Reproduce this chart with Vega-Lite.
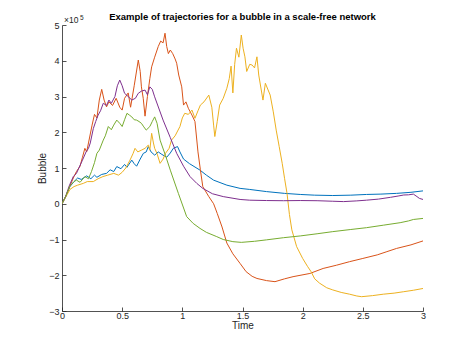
{
  "$schema": "https://vega.github.io/schema/vega-lite/v6.json",
  "width": 361,
  "height": 286,
  "autosize": {"type": "none"},
  "padding": {"left": 62, "top": 25, "right": 44, "bottom": 39},
  "background": "white",
  "config": {
    "font": "Liberation Sans",
    "view": {"stroke": null},
    "axis": {
      "grid": false,
      "domainColor": "#262626",
      "domainWidth": 0.8,
      "tickColor": "#262626",
      "tickWidth": 0.8,
      "tickSize": -4,
      "labelColor": "#262626",
      "labelFontSize": 9,
      "labelOverlap": false,
      "labelFlush": false,
      "titleColor": "#262626",
      "titleFontSize": 10,
      "titleFontWeight": "normal"
    }
  },
  "title": {
    "text": "Example of trajectories for a bubble in a scale-free network",
    "fontSize": 9.5,
    "fontWeight": "bold",
    "color": "#000000",
    "anchor": "middle",
    "frame": "group",
    "offset": -7
  },
  "layer": [
    {
      "data": {
        "values": [
          {"series": "1", "time": 0, "bubble": 0},
          {"series": "1", "time": 0.03, "bubble": 0.2},
          {"series": "1", "time": 0.066, "bubble": 0.48},
          {"series": "1", "time": 0.1, "bubble": 0.62},
          {"series": "1", "time": 0.13, "bubble": 0.72},
          {"series": "1", "time": 0.16, "bubble": 0.68},
          {"series": "1", "time": 0.205, "bubble": 0.78},
          {"series": "1", "time": 0.24, "bubble": 0.7},
          {"series": "1", "time": 0.27, "bubble": 0.8},
          {"series": "1", "time": 0.29, "bubble": 0.74},
          {"series": "1", "time": 0.33, "bubble": 0.82},
          {"series": "1", "time": 0.37, "bubble": 0.85},
          {"series": "1", "time": 0.4, "bubble": 0.95},
          {"series": "1", "time": 0.43, "bubble": 0.9},
          {"series": "1", "time": 0.455, "bubble": 1.04},
          {"series": "1", "time": 0.49, "bubble": 0.98},
          {"series": "1", "time": 0.52, "bubble": 1.1},
          {"series": "1", "time": 0.54, "bubble": 1.02},
          {"series": "1", "time": 0.58, "bubble": 1.22},
          {"series": "1", "time": 0.6, "bubble": 1.12},
          {"series": "1", "time": 0.62, "bubble": 1.05},
          {"series": "1", "time": 0.65, "bubble": 1.25},
          {"series": "1", "time": 0.676, "bubble": 1.41},
          {"series": "1", "time": 0.7, "bubble": 1.45},
          {"series": "1", "time": 0.717, "bubble": 1.6},
          {"series": "1", "time": 0.74, "bubble": 1.45},
          {"series": "1", "time": 0.77, "bubble": 1.36},
          {"series": "1", "time": 0.8, "bubble": 1.45},
          {"series": "1", "time": 0.83, "bubble": 1.38},
          {"series": "1", "time": 0.87, "bubble": 1.3},
          {"series": "1", "time": 0.9, "bubble": 1.42},
          {"series": "1", "time": 0.925, "bubble": 1.55},
          {"series": "1", "time": 0.96, "bubble": 1.6},
          {"series": "1", "time": 0.98, "bubble": 1.45},
          {"series": "1", "time": 1.01, "bubble": 1.25},
          {"series": "1", "time": 1.06, "bubble": 1.12},
          {"series": "1", "time": 1.147, "bubble": 0.94},
          {"series": "1", "time": 1.2, "bubble": 0.8},
          {"series": "1", "time": 1.26, "bubble": 0.66},
          {"series": "1", "time": 1.37, "bubble": 0.52},
          {"series": "1", "time": 1.48, "bubble": 0.43},
          {"series": "1", "time": 1.56, "bubble": 0.4},
          {"series": "1", "time": 1.7, "bubble": 0.34},
          {"series": "1", "time": 1.85, "bubble": 0.29},
          {"series": "1", "time": 1.98, "bubble": 0.26},
          {"series": "1", "time": 2.1, "bubble": 0.24},
          {"series": "1", "time": 2.25, "bubble": 0.23},
          {"series": "1", "time": 2.4, "bubble": 0.24},
          {"series": "1", "time": 2.53, "bubble": 0.26},
          {"series": "1", "time": 2.65, "bubble": 0.27},
          {"series": "1", "time": 2.78, "bubble": 0.29},
          {"series": "1", "time": 2.9, "bubble": 0.32},
          {"series": "1", "time": 3.0, "bubble": 0.36},

          {"series": "2", "time": 0, "bubble": 0},
          {"series": "2", "time": 0.03, "bubble": 0.2},
          {"series": "2", "time": 0.06, "bubble": 0.45},
          {"series": "2", "time": 0.094, "bubble": 0.72},
          {"series": "2", "time": 0.12, "bubble": 0.9},
          {"series": "2", "time": 0.15, "bubble": 1.05},
          {"series": "2", "time": 0.17, "bubble": 1.3},
          {"series": "2", "time": 0.19, "bubble": 1.55},
          {"series": "2", "time": 0.205, "bubble": 1.45},
          {"series": "2", "time": 0.22, "bubble": 1.7},
          {"series": "2", "time": 0.25, "bubble": 2.2},
          {"series": "2", "time": 0.27, "bubble": 2.5},
          {"series": "2", "time": 0.29, "bubble": 2.4},
          {"series": "2", "time": 0.31, "bubble": 2.9},
          {"series": "2", "time": 0.33, "bubble": 3.2},
          {"series": "2", "time": 0.35, "bubble": 2.9},
          {"series": "2", "time": 0.37, "bubble": 2.71},
          {"series": "2", "time": 0.39, "bubble": 2.85},
          {"series": "2", "time": 0.42, "bubble": 2.75},
          {"series": "2", "time": 0.45, "bubble": 2.95},
          {"series": "2", "time": 0.48, "bubble": 2.7},
          {"series": "2", "time": 0.5, "bubble": 2.62},
          {"series": "2", "time": 0.52, "bubble": 2.95},
          {"series": "2", "time": 0.55, "bubble": 3.1},
          {"series": "2", "time": 0.57, "bubble": 2.7},
          {"series": "2", "time": 0.6, "bubble": 3.3},
          {"series": "2", "time": 0.634, "bubble": 4.02},
          {"series": "2", "time": 0.65, "bubble": 3.7},
          {"series": "2", "time": 0.66, "bubble": 3.27},
          {"series": "2", "time": 0.675, "bubble": 2.95},
          {"series": "2", "time": 0.69, "bubble": 2.45},
          {"series": "2", "time": 0.71, "bubble": 3.0},
          {"series": "2", "time": 0.73, "bubble": 3.5},
          {"series": "2", "time": 0.745, "bubble": 3.83},
          {"series": "2", "time": 0.77, "bubble": 4.1},
          {"series": "2", "time": 0.8, "bubble": 4.4},
          {"series": "2", "time": 0.82, "bubble": 4.55},
          {"series": "2", "time": 0.84, "bubble": 4.5},
          {"series": "2", "time": 0.856, "bubble": 4.77},
          {"series": "2", "time": 0.87, "bubble": 4.4},
          {"series": "2", "time": 0.884, "bubble": 4.2},
          {"series": "2", "time": 0.9, "bubble": 4.3},
          {"series": "2", "time": 0.92, "bubble": 4.2},
          {"series": "2", "time": 0.94, "bubble": 4.05},
          {"series": "2", "time": 0.953, "bubble": 3.93},
          {"series": "2", "time": 0.97, "bubble": 3.6},
          {"series": "2", "time": 0.995, "bubble": 3.27},
          {"series": "2", "time": 1.01, "bubble": 2.76},
          {"series": "2", "time": 1.03, "bubble": 2.85},
          {"series": "2", "time": 1.05, "bubble": 2.67},
          {"series": "2", "time": 1.08, "bubble": 2.48},
          {"series": "2", "time": 1.105, "bubble": 2.3},
          {"series": "2", "time": 1.13, "bubble": 1.45},
          {"series": "2", "time": 1.15, "bubble": 0.95},
          {"series": "2", "time": 1.17, "bubble": 0.48},
          {"series": "2", "time": 1.22, "bubble": 0.2},
          {"series": "2", "time": 1.26, "bubble": 0.0},
          {"series": "2", "time": 1.29, "bubble": -0.27},
          {"series": "2", "time": 1.33, "bubble": -0.65},
          {"series": "2", "time": 1.37, "bubble": -1.1},
          {"series": "2", "time": 1.42, "bubble": -1.4},
          {"series": "2", "time": 1.48, "bubble": -1.67},
          {"series": "2", "time": 1.53, "bubble": -1.9},
          {"series": "2", "time": 1.58, "bubble": -2.03},
          {"series": "2", "time": 1.62, "bubble": -2.09},
          {"series": "2", "time": 1.7, "bubble": -2.15},
          {"series": "2", "time": 1.77, "bubble": -2.18},
          {"series": "2", "time": 1.85, "bubble": -2.1},
          {"series": "2", "time": 1.92, "bubble": -2.04},
          {"series": "2", "time": 2.06, "bubble": -1.95},
          {"series": "2", "time": 2.17, "bubble": -1.81},
          {"series": "2", "time": 2.28, "bubble": -1.72},
          {"series": "2", "time": 2.39, "bubble": -1.62},
          {"series": "2", "time": 2.5, "bubble": -1.53},
          {"series": "2", "time": 2.62, "bubble": -1.43},
          {"series": "2", "time": 2.7, "bubble": -1.34},
          {"series": "2", "time": 2.78, "bubble": -1.25},
          {"series": "2", "time": 2.9, "bubble": -1.15},
          {"series": "2", "time": 3.0, "bubble": -1.04},

          {"series": "3", "time": 0, "bubble": 0},
          {"series": "3", "time": 0.03, "bubble": 0.18},
          {"series": "3", "time": 0.066, "bubble": 0.4},
          {"series": "3", "time": 0.1, "bubble": 0.48},
          {"series": "3", "time": 0.13, "bubble": 0.52},
          {"series": "3", "time": 0.177, "bubble": 0.57},
          {"series": "3", "time": 0.21, "bubble": 0.62},
          {"series": "3", "time": 0.26, "bubble": 0.62},
          {"series": "3", "time": 0.3, "bubble": 0.7},
          {"series": "3", "time": 0.34, "bubble": 0.76},
          {"series": "3", "time": 0.38, "bubble": 0.8},
          {"series": "3", "time": 0.43, "bubble": 0.85},
          {"series": "3", "time": 0.47, "bubble": 0.8},
          {"series": "3", "time": 0.5, "bubble": 0.88},
          {"series": "3", "time": 0.53, "bubble": 1.0},
          {"series": "3", "time": 0.565, "bubble": 1.22},
          {"series": "3", "time": 0.59, "bubble": 1.4},
          {"series": "3", "time": 0.607, "bubble": 1.55},
          {"series": "3", "time": 0.63, "bubble": 1.45},
          {"series": "3", "time": 0.66, "bubble": 1.5},
          {"series": "3", "time": 0.69, "bubble": 1.55},
          {"series": "3", "time": 0.717, "bubble": 1.64},
          {"series": "3", "time": 0.73, "bubble": 1.5},
          {"series": "3", "time": 0.745, "bubble": 1.97},
          {"series": "3", "time": 0.76, "bubble": 1.7},
          {"series": "3", "time": 0.77, "bubble": 1.55},
          {"series": "3", "time": 0.79, "bubble": 1.4},
          {"series": "3", "time": 0.815, "bubble": 1.13},
          {"series": "3", "time": 0.84, "bubble": 1.25},
          {"series": "3", "time": 0.86, "bubble": 1.41},
          {"series": "3", "time": 0.89, "bubble": 1.55},
          {"series": "3", "time": 0.91, "bubble": 1.78},
          {"series": "3", "time": 0.94, "bubble": 1.9},
          {"series": "3", "time": 0.98, "bubble": 2.16},
          {"series": "3", "time": 1.0, "bubble": 2.4},
          {"series": "3", "time": 1.02, "bubble": 2.53},
          {"series": "3", "time": 1.05, "bubble": 2.5},
          {"series": "3", "time": 1.08, "bubble": 2.62},
          {"series": "3", "time": 1.105, "bubble": 2.39},
          {"series": "3", "time": 1.13, "bubble": 2.6},
          {"series": "3", "time": 1.15, "bubble": 2.76},
          {"series": "3", "time": 1.18, "bubble": 2.85},
          {"series": "3", "time": 1.22, "bubble": 3.04},
          {"series": "3", "time": 1.245, "bubble": 2.7},
          {"series": "3", "time": 1.26, "bubble": 2.2},
          {"series": "3", "time": 1.27, "bubble": 1.88},
          {"series": "3", "time": 1.29, "bubble": 2.3},
          {"series": "3", "time": 1.31, "bubble": 2.76},
          {"series": "3", "time": 1.34, "bubble": 2.95},
          {"series": "3", "time": 1.37, "bubble": 3.23},
          {"series": "3", "time": 1.39, "bubble": 3.5},
          {"series": "3", "time": 1.405, "bubble": 3.85},
          {"series": "3", "time": 1.42, "bubble": 3.1},
          {"series": "3", "time": 1.435, "bubble": 3.9},
          {"series": "3", "time": 1.45, "bubble": 4.35},
          {"series": "3", "time": 1.47, "bubble": 4.1},
          {"series": "3", "time": 1.49, "bubble": 4.72},
          {"series": "3", "time": 1.505, "bubble": 4.35},
          {"series": "3", "time": 1.52, "bubble": 4.11},
          {"series": "3", "time": 1.535, "bubble": 3.7},
          {"series": "3", "time": 1.56, "bubble": 3.9},
          {"series": "3", "time": 1.58, "bubble": 3.88},
          {"series": "3", "time": 1.6, "bubble": 3.8},
          {"series": "3", "time": 1.62, "bubble": 4.11},
          {"series": "3", "time": 1.635, "bubble": 3.6},
          {"series": "3", "time": 1.67, "bubble": 2.9},
          {"series": "3", "time": 1.69, "bubble": 3.37},
          {"series": "3", "time": 1.73, "bubble": 3.04},
          {"series": "3", "time": 1.756, "bubble": 2.57},
          {"series": "3", "time": 1.78, "bubble": 2.06},
          {"series": "3", "time": 1.805, "bubble": 1.6},
          {"series": "3", "time": 1.83, "bubble": 1.13},
          {"series": "3", "time": 1.85, "bubble": 0.7},
          {"series": "3", "time": 1.87, "bubble": 0.29},
          {"series": "3", "time": 1.89, "bubble": -0.3},
          {"series": "3", "time": 1.91, "bubble": -0.73},
          {"series": "3", "time": 1.95, "bubble": -1.2},
          {"series": "3", "time": 2.0, "bubble": -1.53},
          {"series": "3", "time": 2.04, "bubble": -1.75},
          {"series": "3", "time": 2.07, "bubble": -1.9},
          {"series": "3", "time": 2.1, "bubble": -2.1},
          {"series": "3", "time": 2.14, "bubble": -2.22},
          {"series": "3", "time": 2.2, "bubble": -2.35},
          {"series": "3", "time": 2.25, "bubble": -2.41},
          {"series": "3", "time": 2.32, "bubble": -2.48},
          {"series": "3", "time": 2.39, "bubble": -2.53},
          {"series": "3", "time": 2.45, "bubble": -2.58},
          {"series": "3", "time": 2.49, "bubble": -2.6},
          {"series": "3", "time": 2.58, "bubble": -2.57},
          {"series": "3", "time": 2.67, "bubble": -2.53},
          {"series": "3", "time": 2.76, "bubble": -2.5},
          {"series": "3", "time": 2.84, "bubble": -2.46},
          {"series": "3", "time": 2.92, "bubble": -2.42},
          {"series": "3", "time": 3.0, "bubble": -2.37},

          {"series": "4", "time": 0, "bubble": 0},
          {"series": "4", "time": 0.03, "bubble": 0.2},
          {"series": "4", "time": 0.06, "bubble": 0.5},
          {"series": "4", "time": 0.094, "bubble": 0.76},
          {"series": "4", "time": 0.12, "bubble": 0.85},
          {"series": "4", "time": 0.14, "bubble": 1.0},
          {"series": "4", "time": 0.17, "bubble": 1.22},
          {"series": "4", "time": 0.2, "bubble": 1.45},
          {"series": "4", "time": 0.22, "bubble": 1.55},
          {"series": "4", "time": 0.235, "bubble": 1.7},
          {"series": "4", "time": 0.26, "bubble": 2.1},
          {"series": "4", "time": 0.28, "bubble": 2.3},
          {"series": "4", "time": 0.3, "bubble": 2.48},
          {"series": "4", "time": 0.32, "bubble": 2.6},
          {"series": "4", "time": 0.343, "bubble": 2.81},
          {"series": "4", "time": 0.37, "bubble": 2.75},
          {"series": "4", "time": 0.39, "bubble": 2.9},
          {"series": "4", "time": 0.41, "bubble": 2.81},
          {"series": "4", "time": 0.44, "bubble": 3.0},
          {"series": "4", "time": 0.46, "bubble": 3.3},
          {"series": "4", "time": 0.48, "bubble": 3.46},
          {"series": "4", "time": 0.5, "bubble": 3.3},
          {"series": "4", "time": 0.52, "bubble": 3.09},
          {"series": "4", "time": 0.55, "bubble": 3.0},
          {"series": "4", "time": 0.58, "bubble": 2.9},
          {"series": "4", "time": 0.61, "bubble": 2.95},
          {"series": "4", "time": 0.634, "bubble": 3.09},
          {"series": "4", "time": 0.66, "bubble": 3.15},
          {"series": "4", "time": 0.69, "bubble": 3.18},
          {"series": "4", "time": 0.71, "bubble": 3.05},
          {"series": "4", "time": 0.73, "bubble": 3.27},
          {"series": "4", "time": 0.75, "bubble": 3.2},
          {"series": "4", "time": 0.77, "bubble": 2.99},
          {"series": "4", "time": 0.84, "bubble": 2.34},
          {"series": "4", "time": 0.9, "bubble": 1.85},
          {"series": "4", "time": 0.953, "bubble": 1.41},
          {"series": "4", "time": 1.01, "bubble": 1.05},
          {"series": "4", "time": 1.064, "bubble": 0.76},
          {"series": "4", "time": 1.12, "bubble": 0.57},
          {"series": "4", "time": 1.17, "bubble": 0.43},
          {"series": "4", "time": 1.25, "bubble": 0.28},
          {"series": "4", "time": 1.34, "bubble": 0.2},
          {"series": "4", "time": 1.48, "bubble": 0.12},
          {"series": "4", "time": 1.56, "bubble": 0.1},
          {"series": "4", "time": 1.7, "bubble": 0.09},
          {"series": "4", "time": 1.84, "bubble": 0.085},
          {"series": "4", "time": 1.98, "bubble": 0.09},
          {"series": "4", "time": 2.12, "bubble": 0.085},
          {"series": "4", "time": 2.25, "bubble": 0.07},
          {"series": "4", "time": 2.34, "bubble": 0.06},
          {"series": "4", "time": 2.45, "bubble": 0.08},
          {"series": "4", "time": 2.53, "bubble": 0.1},
          {"series": "4", "time": 2.63, "bubble": 0.13},
          {"series": "4", "time": 2.73, "bubble": 0.18},
          {"series": "4", "time": 2.8, "bubble": 0.22},
          {"series": "4", "time": 2.84, "bubble": 0.245},
          {"series": "4", "time": 2.88, "bubble": 0.25},
          {"series": "4", "time": 2.92, "bubble": 0.27},
          {"series": "4", "time": 2.95, "bubble": 0.2},
          {"series": "4", "time": 2.97, "bubble": 0.15},
          {"series": "4", "time": 3.0, "bubble": 0.12},

          {"series": "5", "time": 0, "bubble": 0},
          {"series": "5", "time": 0.03, "bubble": 0.2},
          {"series": "5", "time": 0.066, "bubble": 0.5},
          {"series": "5", "time": 0.1, "bubble": 0.62},
          {"series": "5", "time": 0.12, "bubble": 0.66},
          {"series": "5", "time": 0.15, "bubble": 0.6},
          {"series": "5", "time": 0.19, "bubble": 0.76},
          {"series": "5", "time": 0.22, "bubble": 0.7},
          {"series": "5", "time": 0.245, "bubble": 0.9},
          {"series": "5", "time": 0.27, "bubble": 1.15},
          {"series": "5", "time": 0.29, "bubble": 1.41},
          {"series": "5", "time": 0.31, "bubble": 1.5},
          {"series": "5", "time": 0.343, "bubble": 1.78},
          {"series": "5", "time": 0.36, "bubble": 1.9},
          {"series": "5", "time": 0.385, "bubble": 2.16},
          {"series": "5", "time": 0.41, "bubble": 2.07},
          {"series": "5", "time": 0.43, "bubble": 2.2},
          {"series": "5", "time": 0.455, "bubble": 2.34},
          {"series": "5", "time": 0.48, "bubble": 2.25},
          {"series": "5", "time": 0.5, "bubble": 2.16},
          {"series": "5", "time": 0.52, "bubble": 2.35},
          {"series": "5", "time": 0.54, "bubble": 2.53},
          {"series": "5", "time": 0.56, "bubble": 2.48},
          {"series": "5", "time": 0.58, "bubble": 2.43},
          {"series": "5", "time": 0.6, "bubble": 2.35},
          {"series": "5", "time": 0.62, "bubble": 2.34},
          {"series": "5", "time": 0.64, "bubble": 2.3},
          {"series": "5", "time": 0.66, "bubble": 2.25},
          {"series": "5", "time": 0.68, "bubble": 2.15},
          {"series": "5", "time": 0.7, "bubble": 2.06},
          {"series": "5", "time": 0.73, "bubble": 2.16},
          {"series": "5", "time": 0.75, "bubble": 2.3},
          {"series": "5", "time": 0.77, "bubble": 2.43},
          {"series": "5", "time": 0.79, "bubble": 2.25},
          {"series": "5", "time": 0.815, "bubble": 1.78},
          {"series": "5", "time": 0.86, "bubble": 1.35},
          {"series": "5", "time": 0.9, "bubble": 0.94},
          {"series": "5", "time": 0.967, "bubble": 0.29},
          {"series": "5", "time": 1.036, "bubble": -0.36},
          {"series": "5", "time": 1.09, "bubble": -0.55},
          {"series": "5", "time": 1.147, "bubble": -0.69},
          {"series": "5", "time": 1.2, "bubble": -0.8},
          {"series": "5", "time": 1.286, "bubble": -0.92},
          {"series": "5", "time": 1.34, "bubble": -1.0},
          {"series": "5", "time": 1.42, "bubble": -1.06},
          {"series": "5", "time": 1.49, "bubble": -1.08},
          {"series": "5", "time": 1.6, "bubble": -1.05},
          {"series": "5", "time": 1.7, "bubble": -1.01},
          {"series": "5", "time": 1.84, "bubble": -0.95},
          {"series": "5", "time": 1.98, "bubble": -0.9},
          {"series": "5", "time": 2.12, "bubble": -0.84},
          {"series": "5", "time": 2.25, "bubble": -0.78},
          {"series": "5", "time": 2.4, "bubble": -0.72},
          {"series": "5", "time": 2.53, "bubble": -0.67},
          {"series": "5", "time": 2.67, "bubble": -0.6},
          {"series": "5", "time": 2.81, "bubble": -0.53},
          {"series": "5", "time": 2.88, "bubble": -0.48},
          {"series": "5", "time": 2.92, "bubble": -0.44},
          {"series": "5", "time": 3.0, "bubble": -0.41}
        ]
      },
      "mark": {"type": "line", "strokeWidth": 1, "clip": true},
      "encoding": {
        "x": {
          "field": "time",
          "type": "quantitative",
          "scale": {"domain": [0, 3], "nice": false, "zero": false},
          "axis": {"title": "Time", "values": [0, 0.5, 1, 1.5, 2, 2.5, 3], "format": "~g", "titlePadding": 0, "labelPadding": 4, "labelOverlap": false}
        },
        "y": {
          "field": "bubble",
          "type": "quantitative",
          "scale": {"domain": [-3, 5], "nice": false, "zero": false},
          "axis": {"title": "Bubble", "values": [-3, -2, -1, 0, 1, 2, 3, 4, 5], "format": "~g", "titlePadding": 1, "labelPadding": 7, "labelOverlap": false, "tickCount": 9}
        },
        "color": {
          "field": "series",
          "type": "nominal",
          "scale": {"domain": ["1", "2", "3", "4", "5"], "range": ["#0072BD", "#D95319", "#EDB120", "#7E2F8E", "#77AC30"]},
          "legend": null
        }
      }
    },
    {
      "data": {"values": [{"label": "×10"}]},
      "mark": {"type": "text", "align": "left", "baseline": "bottom", "dx": 2, "dy": -0.5, "fontSize": 8.5, "color": "#262626"},
      "encoding": {
        "x": {"datum": 0, "type": "quantitative"},
        "y": {"datum": 5, "type": "quantitative"},
        "text": {"field": "label"}
      }
    },
    {
      "data": {"values": [{"label": "5"}]},
      "mark": {"type": "text", "align": "left", "baseline": "bottom", "dx": 18, "dy": -4.5, "fontSize": 6.5, "color": "#262626"},
      "encoding": {
        "x": {"datum": 0, "type": "quantitative"},
        "y": {"datum": 5, "type": "quantitative"},
        "text": {"field": "label"}
      }
    }
  ]
}
